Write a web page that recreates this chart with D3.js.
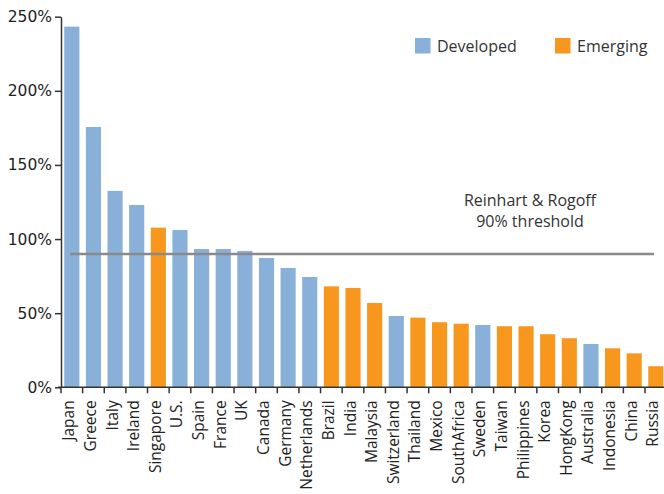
<!DOCTYPE html>
<html>
<head>
<meta charset="utf-8">
<script src="https://cdn.jsdelivr.net/npm/d3@7"></script>
<style>
  html, body { margin: 0; padding: 0; background: #fff; }
  svg { display: block; }
</style>
</head>
<body>
<svg id="chart" width="664" height="494"></svg>
<script>
// Government debt as a share of GDP, by country
const countries = ["Japan", "Greece", "Italy", "Ireland", "Singapore", "U.S.", "Spain", "France", "UK",
  "Canada", "Germany", "Netherlands", "Brazil", "India", "Malaysia", "Switzerland", "Thailand", "Mexico",
  "SouthAfrica", "Sweden", "Taiwan", "Philippines", "Korea", "HongKong", "Australia", "Indonesia", "China", "Russia"];
const debtRatio = [243.3, 175.6, 132.5, 123, 107.7, 106.1, 93.3, 93.3, 92.0,
  87.2, 80.5, 74.4, 68.1, 67.0, 56.9, 48.1, 47.0, 43.9,
  42.9, 42.0, 41.2, 41.2, 35.8, 33.1, 29.2, 26.3, 22.9, 14.2];
const group = ["Developed", "Developed", "Developed", "Developed", "Emerging", "Developed", "Developed", "Developed", "Developed",
  "Developed", "Developed", "Developed", "Emerging", "Emerging", "Emerging", "Developed", "Emerging", "Emerging",
  "Emerging", "Developed", "Emerging", "Emerging", "Emerging", "Emerging", "Developed", "Emerging", "Emerging", "Emerging"];
const groups = ["Developed", "Emerging"];
const groupColors = ["#88B0D9", "#F7971E"];
const yTicks = [0, 50, 100, 150, 200, 250];
const threshold = 90;
const thresholdLabel = ["Reinhart & Rogoff", "90% threshold"];

const svg = d3.select("#chart");
const plotLeft = 61, plotBottom = 387.3, plotTop = 16.7;
const step = 21.63;

const x = d3.scaleBand()
  .domain(countries)
  .range([plotLeft, plotLeft + step * countries.length])
  .paddingInner(0.3)
  .paddingOuter(0.15);

const y = d3.scaleLinear().domain([0, 250]).range([plotBottom, plotTop]);
const color = d3.scaleOrdinal().domain(groups).range(groupColors);

const labelFont = "'Open Sans', sans-serif";
const tickFont = "'DejaVu Sans', sans-serif";

// Bars
svg.append("g")
  .selectAll("rect")
  .data(countries)
  .join("rect")
  .attr("x", d => x(d))
  .attr("width", x.bandwidth())
  .attr("y", (d, i) => y(debtRatio[i]))
  .attr("height", (d, i) => y(0) - y(debtRatio[i]))
  .attr("fill", (d, i) => color(group[i]));

// Threshold line
svg.append("line")
  .attr("x1", 70).attr("x2", 654)
  .attr("y1", y(threshold)).attr("y2", y(threshold))
  .attr("stroke", "#8a8a8a")
  .attr("stroke-width", 2.5);

svg.append("text")
  .attr("x", 530)
  .attr("y", 206)
  .attr("text-anchor", "middle")
  .attr("font-family", labelFont)
  .attr("font-size", 16)
  .attr("fill", "#333")
  .selectAll("tspan")
  .data(thresholdLabel)
  .join("tspan")
  .attr("x", 530)
  .attr("dy", (d, i) => i === 0 ? 0 : 21)
  .text(d => d);

// Y axis
const yAxis = svg.append("g")
  .attr("transform", `translate(${plotLeft},0)`)
  .call(d3.axisLeft(y).tickValues(yTicks).tickFormat(d => d + "%").tickSize(6).tickSizeOuter(0));
yAxis.select(".domain").attr("stroke", "#333").attr("stroke-width", 1.5);
yAxis.selectAll(".tick line").attr("stroke", "#333").attr("stroke-width", 1.5);
yAxis.selectAll(".tick text")
  .attr("font-family", tickFont)
  .attr("font-size", 15.5)
  .attr("fill", "#222")
  .attr("x", -9);

// X axis with ticks at band boundaries
const xAxis = svg.append("g").attr("transform", `translate(0,${plotBottom})`);
xAxis.append("line")
  .attr("x1", plotLeft - 3).attr("x2", x.range()[1])
  .attr("stroke", "#333").attr("stroke-width", 1.5);
xAxis.selectAll("line.sep")
  .data(countries)
  .join("line")
  .attr("class", "sep")
  .attr("x1", d => x(d) - x.step() * 0.15)
  .attr("x2", d => x(d) - x.step() * 0.15)
  .attr("y1", 0).attr("y2", 6)
  .attr("stroke", "#333").attr("stroke-width", 1.5);
xAxis.selectAll("text")
  .data(countries)
  .join("text")
  .attr("transform", d => `translate(${x(d) + x.bandwidth() / 2 + 2.5},13) rotate(-90)`)
  .attr("text-anchor", "end")
  .attr("font-family", labelFont)
  .attr("font-size", 15.5)
  .attr("fill", "#222")
  .text(d => d);

// Legend
const legend = svg.append("g");
const legendX = [415, 555];
groups.forEach((g, i) => {
  legend.append("rect")
    .attr("x", legendX[i]).attr("y", 38)
    .attr("width", 15.5).attr("height", 15.5)
    .attr("fill", color(g));
  legend.append("text")
    .attr("x", legendX[i] + 22).attr("y", 52)
    .attr("font-family", labelFont)
    .attr("font-size", 16)
    .attr("fill", "#333")
    .text(g);
});
</script>
</body>
</html>
